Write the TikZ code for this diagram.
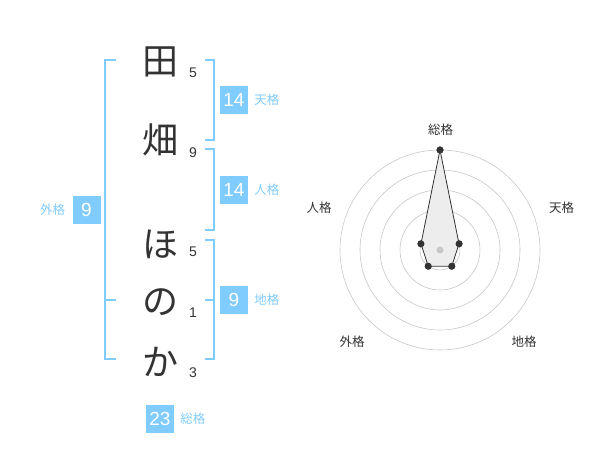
\documentclass[tikz,border=0pt]{standalone}
\usepackage{fontspec}
\setmainfont{Liberation Sans}
\newfontfamily\jp{Noto Sans CJK JP}
\usetikzlibrary{positioning, calc}
\definecolor{kakublue}{RGB}{128,204,255}
\definecolor{inkgray}{RGB}{51,51,51}
\tikzset{
	kanji/.style={font=\jp\fontsize{36}{36}\selectfont, text=inkgray, inner sep=0pt},
	strokenum/.style={font=\fontsize{14}{14}\selectfont, text=inkgray, inner sep=0pt},
	scorebox/.style={rectangle, fill=kakublue, text=white, minimum width=28pt, minimum height=28pt, inner sep=0pt, font=\fontsize{19}{19}\selectfont},
	kaku/.style={font=\jp\fontsize{12.5}{12.5}\selectfont, text=kakublue, inner sep=0pt},
	bracket/.style={draw=kakublue, line width=2pt},
	ring/.style={draw=black!22, line width=0.6pt},
	dot/.style={circle, fill=inkgray, inner sep=0pt, minimum size=7pt},
	axislabel/.style={font=\jp\fontsize{12.5}{12.5}\selectfont, text=inkgray, inner sep=0pt}
}

\begin{document}
\begin{tikzpicture}[x=1pt, y=1pt, node distance=6pt]
	\useasboundingbox (0,0) rectangle (600,470);
	
	% Name characters and their stroke counts
	\node[kanji] (c1) at (160,408) {田};
	\node[kanji] (c2) at (160,330) {畑};
	\node[kanji] (c3) at (160,226) {ほ};
	\node[kanji] (c4) at (160,168) {の};
	\node[kanji] (c5) at (160,108) {か};
	\node[strokenum] (n1) at (193,397) {5};
	\node[strokenum] (n2) at (193,317) {9};
	\node[strokenum] (n3) at (193,218) {5};
	\node[strokenum] (n4) at (193,157) {1};
	\node[strokenum] (n5) at (193,97) {3};
	
	% Score boxes with their labels
	\node[scorebox] (ten) at (234,370) {14};
	\node[scorebox] (jin) at (234,280) {14};
	\node[scorebox] (chi) at (234,170) {9};
	\node[scorebox] (gai) at (86.5,260) {9};
	\node[scorebox] (sou) at (160,51) {23};
	\node[kaku, right=of ten] {天格};
	\node[kaku, right=of jin] {人格};
	\node[kaku, right=of chi] {地格};
	\node[kaku, left=7pt of gai] {外格};
	\node[kaku, right=of sou] {総格};
	
	% Brackets (blue)
	\coordinate (t1) at (214,410); \coordinate (t2) at (214,330);
	\coordinate (j1) at (214,321); \coordinate (j2) at (214,240);
	\coordinate (k1) at (214,230); \coordinate (k2) at (214,111); \coordinate (km) at (214,170);
	\coordinate (g1) at (105,410); \coordinate (g2) at (105,111); \coordinate (gm) at (105,170);
	\draw[bracket] ([xshift=-9pt]t1) -- (t1) -- (t2) -- ([xshift=-9pt]t2);
	\draw[bracket] ([xshift=-9pt]j1) -- (j1) -- (j2) -- ([xshift=-9pt]j2);
	\draw[bracket] ([xshift=-9pt]k1) -- (k1) -- (k2) -- ([xshift=-9pt]k2);
	\draw[bracket] ([xshift=-9pt]km) -- (km);
	\draw[bracket] ([xshift=11pt]g1) -- (g1) -- (g2) -- ([xshift=11pt]g2);
	\draw[bracket] ([xshift=11pt]gm) -- (gm);
	
	% Radar chart
	\coordinate (c) at (440,220);
	\foreach \r in {20,40,...,100}
		\draw[ring] (c) circle[radius=\r];
	\node[dot] (pS) at ($(c)+(90:100)$) {};
	\node[dot] (pT) at ($(c)+(18:20)$) {};
	\node[dot] (pC) at ($(c)+(-54:20)$) {};
	\node[dot] (pG) at ($(c)+(-126:20)$) {};
	\node[dot] (pJ) at ($(c)+(162:20)$) {};
	\begin{scope}[on background layer/.try]
		\draw[fill=black!7, draw=inkgray, line width=0.8pt] (pS.center) -- (pT.center) -- (pC.center) -- (pG.center) -- (pJ.center) -- cycle;
	\end{scope}
	\fill[black!22] (c) circle[radius=3.5];
	\node[dot] at (pS) {}; \node[dot] at (pT) {}; \node[dot] at (pC) {};
	\node[dot] at (pG) {}; \node[dot] at (pJ) {};
	\node[axislabel] (lS) at (440.7,340) {総格};
	\node[axislabel] (lT) at (561.7,262) {天格};
	\node[axislabel] (lJ) at (319,262) {人格};
	\node[axislabel] (lG) at (352,128) {外格};
	\node[axislabel] (lC) at (524,128) {地格};
\end{tikzpicture}
\end{document}
